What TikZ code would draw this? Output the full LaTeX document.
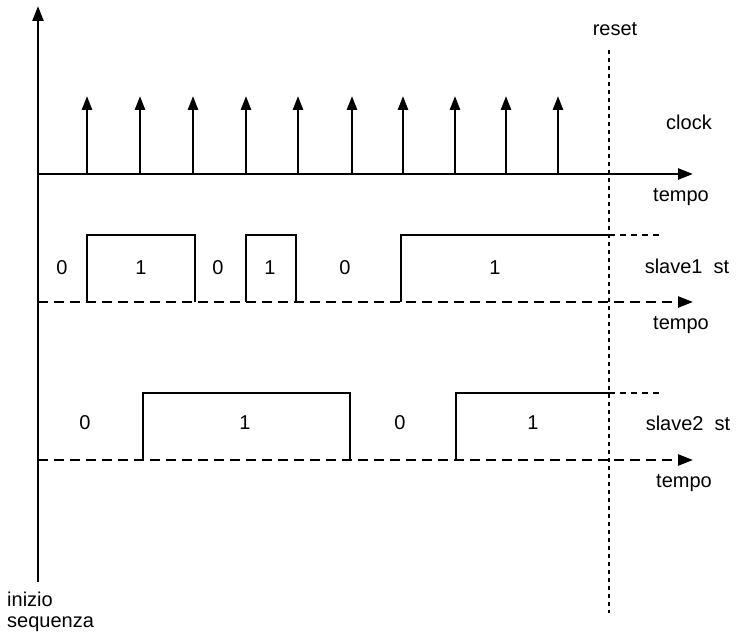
\documentclass[tikz,border=0pt]{standalone}
\usepackage{fontspec}
\setmainfont{Liberation Sans}
\usetikzlibrary{arrows.meta}
\begin{document}
\begin{tikzpicture}[x=1pt,y=-1pt,
  lbl/.style={inner sep=0pt,font=\fontsize{20}{23}\selectfont},
  axisline/.style={line width=2.6pt,-{Triangle[length=15pt,width=11pt]}},
  dashaxis/.style={line width=2.4pt,dash pattern=on 10pt off 6pt,-{Triangle[length=15pt,width=11pt]}},
  wave/.style={line width=2.2pt},
  wavecont/.style={line width=1.8pt,dash pattern=on 6pt off 5pt},
  tick/.style={line width=2.6pt,-{Triangle[length=14pt,width=10pt]}},
  resetline/.style={line width=2.6pt,dash pattern=on 4pt off 4pt}]
\useasboundingbox (0,0) rectangle (739,636);
% axis coordinates
\coordinate (ybot) at (38,582);
\coordinate (ytop) at (38,6);
\coordinate (c0) at (38,174);
\coordinate (c1) at (693,174);
\coordinate (s10) at (38,302);
\coordinate (s11) at (693,302);
\coordinate (s20) at (38,460);
\coordinate (s21) at (693,460);
\coordinate (r0) at (609,50);
\coordinate (r1) at (609,613);
% axes
\draw[axisline] (ybot) -- (ytop);
\draw[axisline] (c0) -- (c1);
\draw[dashaxis] (s10) -- (s11);
\draw[dashaxis] (s20) -- (s21);
% clock ticks
\foreach \i/\x in {1/87,2/140,3/193,4/246,5/298,6/352,7/403,8/455,9/506,10/558}{
  \coordinate (k\i a) at (\x,174);
  \coordinate (k\i b) at (\x,96);
  \draw[tick] (k\i a) -- (k\i b);
}
% slave1 waveform
\coordinate (a1) at (87,302); \coordinate (a2) at (87,235); \coordinate (a3) at (195,235); \coordinate (a4) at (195,302);
\coordinate (a5) at (246,302); \coordinate (a6) at (246,235); \coordinate (a7) at (296,235); \coordinate (a8) at (296,302);
\coordinate (a9) at (401,302); \coordinate (a10) at (401,235); \coordinate (a11) at (609,235); \coordinate (a12) at (663,235);
\draw[wave] (a1) -- (a2) -- (a3) -- (a4);
\draw[wave] (a5) -- (a6) -- (a7) -- (a8);
\draw[wave] (a9) -- (a10) -- (a11);
\draw[wavecont] (a11) -- (a12);
% slave2 waveform
\coordinate (b1) at (143,460); \coordinate (b2) at (143,393); \coordinate (b3) at (350,393); \coordinate (b4) at (350,460);
\coordinate (b5) at (456,460); \coordinate (b6) at (456,393); \coordinate (b7) at (609,393); \coordinate (b8) at (663,393);
\draw[wave] (b1) -- (b2) -- (b3) -- (b4);
\draw[wave] (b5) -- (b6) -- (b7);
\draw[wavecont] (b7) -- (b8);
% reset line
\draw[resetline] (r0) -- (r1);
% labels
\node[lbl] (reset) at (615,29) {reset};
\node[lbl] (clock) at (689,122) {clock};
\node[lbl] (t1) at (681,197) {tempo};
\node[lbl] (s1lab) at (687,266) {slave1\ \ st};
\node[lbl] (t2) at (681,325) {tempo};
\node[lbl] (s2lab) at (688,423) {slave2\ \ st};
\node[lbl] (t3) at (684,483) {tempo};
\foreach \n/\x/\v in {p1/62/0,p2/141/1,p3/218/0,p4/270/1,p5/345/0,p6/495/1}{
  \node[lbl] (\n) at (\x,268) {\v};
}
\foreach \n/\x/\v in {q1/85/0,q2/245/1,q3/400/0,q4/533/1}{
  \node[lbl] (\n) at (\x,423) {\v};
}
\node[lbl,anchor=north west,align=left,font=\fontsize{20}{21}\selectfont] (inizio) at (7,592) {inizio\\sequenza};
\end{tikzpicture}
\end{document}
